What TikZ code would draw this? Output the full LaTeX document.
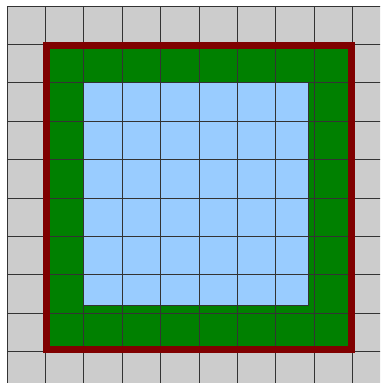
\documentclass[tikz,border=0pt]{standalone}
\definecolor{cellgray}{RGB}{204, 204, 204}
\definecolor{cellgreen}{RGB}{0, 128, 0}
\definecolor{cellblue}{RGB}{153, 204, 255}
\definecolor{framered}{RGB}{128, 0, 0}
\usepackage{tikz}

\begin{document}
\begin{tikzpicture}[
  gridline/.style={draw=black!80, line width=0.6pt},
  frame/.style={draw=framered, line width=5.2pt, line join=miter}
]
  \useasboundingbox (-0.182, 0.156) rectangle (9.714, -9.818);
  \clip (-0.182, 0.156) rectangle (9.714, -9.818);
  % background cells
  \fill[cellgray] (0, 0) rectangle (10, -10);
  \fill[cellgreen] (1, -1) rectangle (9, -9);
  \fill[cellblue] (2, -2) rectangle (7.84, -7.81);
  % grid over all cells
  \draw[gridline, step=1] (0, 0) grid (10, -10);
  \draw[gridline] (2, -2) rectangle (7.84, -7.81);
  % outer frame
  \draw[frame] (1.03, -1.04) rectangle (8.98, -8.95);
\end{tikzpicture}
\end{document}
